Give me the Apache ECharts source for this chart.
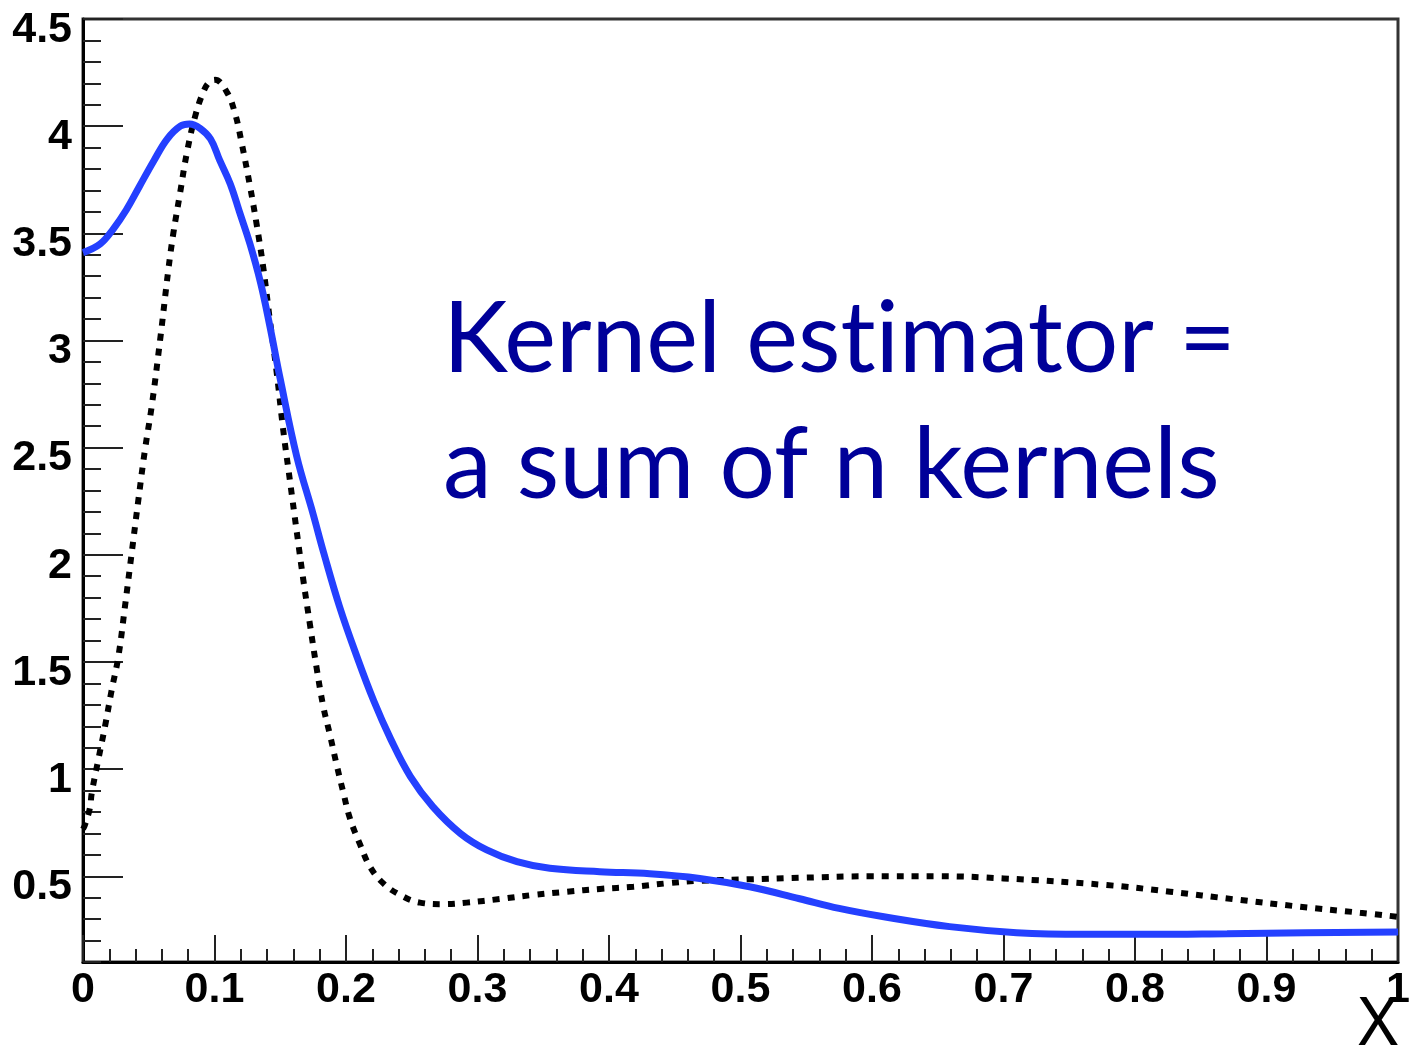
<!DOCTYPE html>
<html>
<head>
<meta charset="utf-8">
<script src="https://cdn.jsdelivr.net/npm/echarts@6/dist/echarts.min.js"></script>
<style>
  html, body { margin: 0; padding: 0; background: #fff; }
  #chart { width: 1409px; height: 1053px; }
</style>
</head>
<body>
<div id="chart"></div>
<script>
// Kernel density estimate (solid blue)
const kdeX = [0, 0.013, 0.023, 0.033, 0.043, 0.054, 0.064, 0.074, 0.081, 0.089, 0.097, 0.104, 0.112, 0.119, 0.127,
  0.135, 0.142, 0.150, 0.1625, 0.175, 0.183, 0.195, 0.208, 0.221, 0.234, 0.249, 0.266, 0.287, 0.307, 0.330,
  0.355, 0.393, 0.431, 0.469, 0.507, 0.545, 0.575, 0.609, 0.659, 0.710, 0.761, 0.811, 0.870, 0.930, 1.0];
const kdeY = [3.41, 3.45, 3.52, 3.61, 3.72, 3.84, 3.94, 4.00, 4.01, 3.99, 3.94, 3.84, 3.73, 3.60, 3.45,
  3.27, 3.07, 2.82, 2.46, 2.19, 2.01, 1.76, 1.53, 1.32, 1.14, 0.965, 0.825, 0.70, 0.623, 0.568,
  0.537, 0.521, 0.512, 0.49, 0.451, 0.395, 0.35, 0.311, 0.265, 0.237, 0.229, 0.229, 0.232, 0.236, 0.24];

// True density (dotted black)
const trueX = [0, 0.0015, 0.0053, 0.0066, 0.0116, 0.0167, 0.0218, 0.0269, 0.0319, 0.037, 0.0421, 0.0471, 0.0522,
  0.0586, 0.0649, 0.0687, 0.0738, 0.0789, 0.0852, 0.0915, 0.096, 0.1004, 0.1093, 0.1156, 0.1207, 0.127, 0.1321,
  0.1371, 0.142, 0.1473, 0.1523, 0.1575, 0.1625, 0.1676, 0.1727, 0.1777, 0.1828, 0.1878, 0.1929, 0.198,
  0.203, 0.2106, 0.2182, 0.2284, 0.2411, 0.2563, 0.274, 0.2918, 0.3171, 0.3425, 0.3679, 0.3932, 0.4185,
  0.4439, 0.4692, 0.5072, 0.5452, 0.60, 0.65, 0.70, 0.7785, 0.8266, 0.8748, 0.9255, 0.9711, 1.0];
const trueY = [0.72, 0.74, 0.82, 0.887, 1.043, 1.198, 1.369, 1.525, 1.758, 2.007, 2.256, 2.489, 2.691,
  3.00, 3.33, 3.50, 3.687, 3.873, 4.044, 4.16, 4.205, 4.216, 4.16, 4.06, 3.92, 3.72, 3.54,
  3.34, 3.10, 2.85, 2.58, 2.34, 2.11, 1.88, 1.67, 1.47, 1.29, 1.16, 1.02, 0.89,
  0.77, 0.65, 0.545, 0.467, 0.413, 0.377, 0.37, 0.377, 0.394, 0.413, 0.428, 0.441, 0.451,
  0.467, 0.479, 0.486, 0.493, 0.50, 0.50, 0.49, 0.459, 0.428, 0.393, 0.358, 0.33, 0.311];

// Labelled y ticks
const yMajorTicks = [0.5, 1, 1.5, 2, 2.5, 3, 3.5, 4, 4.5];
// "t" drawn as its own rich fragment so the font does not merge "ti" into a ligature
const annotation = 'Kernel es{t|t}imator =\na sum of n kernels';
const xTitle = 'X';

const toPairs = (xs, ys) => xs.map((x, i) => [x, ys[i]]);
const fmt = v => String(+Number(v).toFixed(2));

const labelFont = {
  color: '#000',
  fontFamily: 'Liberation Sans, Arial, sans-serif',
  fontWeight: 'bold',
  fontSize: 43
};
const noteFont = {
  color: '#000099',
  fontFamily: 'Lato, sans-serif',
  fontWeight: 'normal',
  fontSize: 98,
  lineHeight: 126
};

const chart = echarts.init(document.getElementById('chart'), null, { renderer: 'canvas' });
chart.setOption({
  animation: false,
  backgroundColor: '#fff',
  title: [
    {
      text: annotation,
      left: 438,
      top: 272,
      textStyle: Object.assign({ rich: { t: Object.assign({}, noteFont) } }, noteFont)
    },
    {
      text: xTitle,
      right: 11,
      top: 992,
      padding: 0,
      textStyle: {
        color: '#000',
        fontFamily: 'Noto Sans, sans-serif',
        fontWeight: 'normal',
        fontSize: 68
      }
    }
  ],
  grid: {
    left: 83, top: 19, right: 11, bottom: 91,
    containLabel: false,
    outerBoundsMode: 'none',
    show: true,
    borderColor: '#333',
    borderWidth: 3,
    backgroundColor: 'transparent'
  },
  xAxis: {
    type: 'value',
    min: 0, max: 1, interval: 0.1,
    axisLine: { show: true, onZero: false, lineStyle: { color: '#000', width: 3 } },
    axisTick: { show: true, inside: true, length: 27, lineStyle: { color: '#222', width: 2 } },
    minorTick: { show: true, splitNumber: 5, length: 13, lineStyle: { color: '#222', width: 2 } },
    splitLine: { show: false },
    axisLabel: Object.assign({
      margin: 7,
      showMinLabel: true,
      showMaxLabel: true,
      formatter: fmt
    }, labelFont)
  },
  yAxis: [
    {
      type: 'value',
      min: 0.1, max: 4.5, interval: 0.1,
      axisLine: { show: true, onZero: false, lineStyle: { color: '#000', width: 3 } },
      axisTick: { show: true, inside: true, length: 18, lineStyle: { color: '#222', width: 2 } },
      axisLabel: { show: false },
      splitLine: { show: false }
    },
    {
      type: 'value',
      position: 'left',
      min: 0.1, max: 4.5, interval: 0.1,
      axisLine: { show: false },
      axisTick: { show: true, inside: true, length: 40, customValues: yMajorTicks, lineStyle: { color: '#222', width: 2 } },
      axisLabel: Object.assign({
        customValues: yMajorTicks,
        margin: 11,
        formatter: v => '{v|' + fmt(v) + '}',
        rich: {
          v: Object.assign({ padding: [22, 0, 0, 0] }, labelFont)
        }
      }, labelFont),
      splitLine: { show: false }
    }
  ],
  series: [
    {
      name: 'true density',
      type: 'line',
      yAxisIndex: 0,
      data: toPairs(trueX, trueY),
      showSymbol: false,
      smooth: 0.4,
      lineStyle: { color: '#000', width: 6, type: [7, 8], cap: 'butt' },
      z: 2
    },
    {
      name: 'kernel estimate',
      type: 'line',
      yAxisIndex: 0,
      data: toPairs(kdeX, kdeY),
      showSymbol: false,
      smooth: 0.4,
      lineStyle: { color: '#2440ff', width: 7 },
      z: 3
    }
  ]
});
</script>
</body>
</html>
